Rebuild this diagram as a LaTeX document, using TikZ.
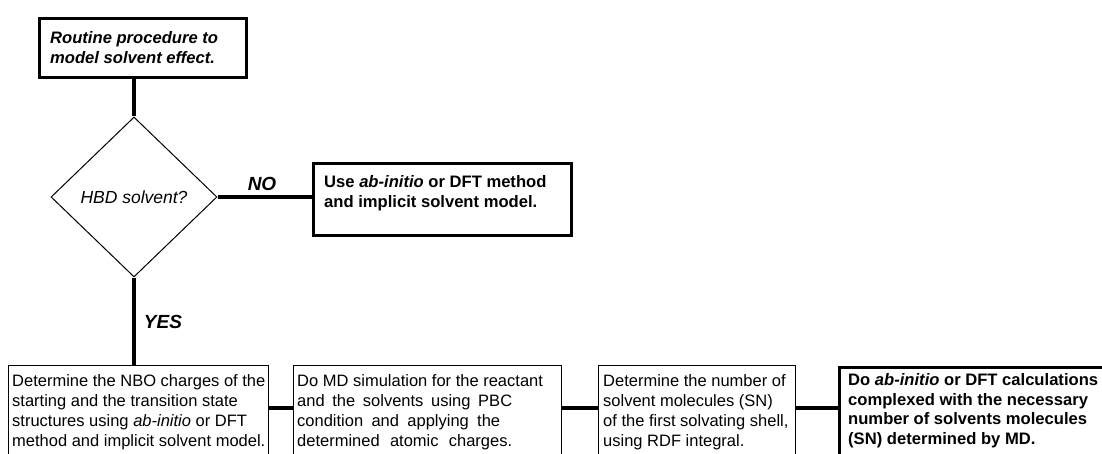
\documentclass[tikz,border=0pt]{standalone}
\usepackage{fontspec}
\setmainfont{Liberation Sans}
\usetikzlibrary{shapes.geometric}
\newcommand\fsreg{\fontsize{16.5}{20}\selectfont}
\newcommand\fsbold{\fontsize{16.6}{19.5}\selectfont\bfseries}
\begin{document}
\begin{tikzpicture}[x=1pt,y=-1pt,
  thickbox/.style={draw=black,line width=3.2pt,fill=white,inner sep=0pt,anchor=north west},
  thinbox/.style={draw=black,line width=1pt,fill=white,inner sep=0pt,anchor=north west},
  conn/.style={draw=black,line width=3.2pt},
  txt/.style={inner sep=0pt,anchor=north west,align=left,font=\fsreg},
  btxt/.style={inner sep=0pt,anchor=north west,align=left,font=\fsbold},
  bitxt/.style={inner sep=0pt,anchor=north west,align=left,font=\fsbold\itshape},
  lbl/.style={inner sep=0pt,font=\fontsize{19}{22}\selectfont\bfseries\itshape},
  decision/.style={draw=black,line width=1pt,diamond,inner sep=0pt,font=\fontsize{17.5}{20}\selectfont\itshape}]
\useasboundingbox (0,0) rectangle (1102,454);
\clip (0,0) rectangle (1102,454);
\fill[white] (0,0) rectangle (1102,454);

% top start box
\node[thickbox, minimum width=207pt, minimum height=59pt] (top) at (38,17) {};
\node[bitxt] (toptxt) at (50,30) {\strut Routine procedure to\\model solvent effect.};

% decision
\node[decision, minimum width=166pt, minimum height=160pt] (dia) at (134,197) {HBD solvent?};

% NO branch box
\node[thickbox, minimum width=258pt, minimum height=72pt] (nob) at (312,162) {};
\node[btxt] (nobtxt) at (324,174) {\strut Use \textit{ab-initio} or DFT method\\and implicit solvent model.};

% bottom row boxes
\node[thinbox, minimum width=260pt, minimum height=100pt] (b1) at (8,365) {};
\node[thinbox, minimum width=268pt, minimum height=100pt] (b2) at (293,365) {};
\node[thinbox, minimum width=197pt, minimum height=100pt] (b3) at (598,365) {};
\node[thickbox, minimum width=300pt, minimum height=100pt] (b4) at (838,366) {};

\node[txt] (t1) at (12,372) {\strut Determine the NBO charges of the\\starting and the transition state\\structures using \textit{ab-initio} or DFT\\method and implicit solvent model.};
\node[txt] (t2) at (297,372) {\strut Do MD simulation for the reactant\\\makebox[215pt][s]{and the solvents using PBC}\\\makebox[203pt][s]{condition and applying the}\\\makebox[215pt][s]{determined atomic charges.}};
\node[txt] (t3) at (603,372) {\strut Determine the number of\\solvent molecules (SN)\\of the first solvating shell,\\using RDF integral.};
\node[btxt] (t4) at (848,372) {\strut Do \textit{ab-initio} or DFT calculations\\complexed with the necessary\\number of solvents molecules\\(SN) determined by MD.};

% connectors
\draw[conn] (top.south -| dia.north) -- (dia.north);
\draw[conn] (dia.east) -- (dia.east -| nob.west);
\draw[conn] (dia.south) -- (dia.south |- b1.north);
\path (b1.north east) ++(0,43) coordinate (c1);
\path (b2.north east) ++(0,43) coordinate (c2);
\path (b3.north east) ++(0,43) coordinate (c3);
\draw[conn] (c1) -- (c1 -| b2.west);
\draw[conn] (c2) -- (c2 -| b3.west);
\draw[conn] (c3) -- (c3 -| b4.west);

% labels
\node[lbl] (nolbl) at (262,184) {NO};
\node[lbl] (yeslbl) at (163,322) {YES};
\end{tikzpicture}
\end{document}
